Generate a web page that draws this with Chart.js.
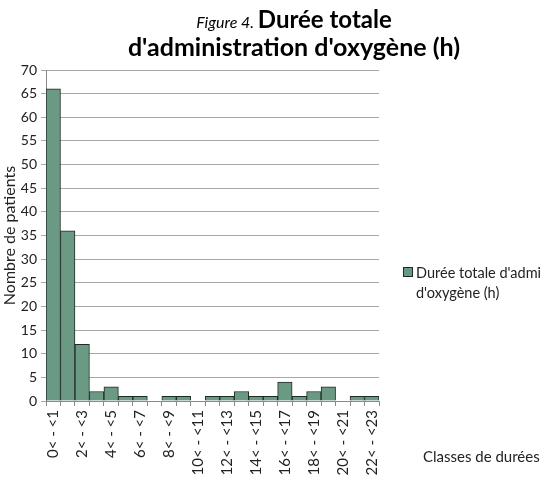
<!DOCTYPE html>
<html>
<head>
<meta charset="utf-8">
<script src="https://cdn.jsdelivr.net/npm/chart.js@4/dist/chart.umd.min.js"></script>
<style>
  html, body { margin: 0; padding: 0; background: #fff; }
  #wrap { width: 540px; height: 478px; position: relative; }
</style>
</head>
<body>
<div id="wrap"><canvas id="chart"></canvas></div>
<script>
/* ── Data ───────────────────────────────────────────────────── */

const classes = ["0< - <1", "1< - <2", "2< - <3", "3< - <4", "4< - <5", "5< - <6",
  "6< - <7", "7< - <8", "8< - <9", "9< - <10", "10< - <11", "11< - <12",
  "12< - <13", "13< - <14", "14< - <15", "15< - <16", "16< - <17", "17< - <18",
  "18< - <19", "19< - <20", "20< - <21", "21< - <22", "22< - <23"];
const patients = [66, 36, 12, 2, 3, 1, 1, 0, 1, 1, 0, 1, 1, 2, 1, 1, 4, 1, 2, 3, 0, 1, 1];
const seriesName = "Durée totale d'administration d'oxygène (h)";
const yTicks = [0, 5, 10, 15, 20, 25, 30, 35, 40, 45, 50, 55, 60, 65, 70];

const FONT = "Lato, 'Open Sans', sans-serif";
const BAR_FILL = "#6a9a84";
const BAR_EDGE = "#1e2b24";

/* ── Custom texts: title, legend, x title ──────────────────── */

const decorations = {
  id: "decorations",
  afterDraw(chart) {
    const c = chart.ctx;
    c.save();
    c.fillStyle = "#000";
    c.textBaseline = "alphabetic";

    // title line 1: italic "Figure 4." + bold "Durée totale"
    const small = "italic 16px " + FONT;
    const big = "bold 24px " + FONT;
    c.font = small;
    const w1 = c.measureText("Figure 4. ").width;
    c.font = big;
    const w2 = c.measureText("Durée totale").width;
    let x = 294 - (w1 + w2) / 2;
    c.font = small;
    c.fillText("Figure 4. ", x, 28);
    c.font = big;
    c.fillText("Durée totale", x + w1, 28);
    c.font = "bold 25px " + FONT;
    c.textAlign = "center";
    c.fillText("d'administration d'oxygène (h)", 294, 56);

    // legend
    c.textAlign = "left";
    c.fillStyle = BAR_FILL;
    c.fillRect(403.5, 267.5, 9, 9);
    c.strokeStyle = BAR_EDGE;
    c.lineWidth = 1;
    c.strokeRect(403.5, 267.5, 9, 9);
    c.fillStyle = "#222";
    c.font = "14.5px " + FONT;
    c.fillText("Durée totale d'administration", 416, 278);
    c.fillText("d'oxygène (h)", 416, 298);

    // x axis title
    c.font = "15px " + FONT;
    c.fillText("Classes de durées", 423, 462);
    c.restore();
  }
};

/* ── Chart ──────────────────────────────────────────────────── */

new Chart(document.getElementById("chart"), {
  type: "bar",
  data: {
    labels: classes,
    datasets: [{
      label: seriesName,
      data: patients,
      backgroundColor: BAR_FILL,
      borderColor: BAR_EDGE,
      borderWidth: 1,
      barPercentage: 1,
      categoryPercentage: 1,
    }],
  },
  options: {
    responsive: true,
    maintainAspectRatio: false,
    animation: false,
    layout: { padding: { top: 70, right: 161, left: 0, bottom: 0 } },
    plugins: {
      legend: { display: false },
      tooltip: { enabled: false },
    },
    scales: {
      x: {
        afterFit: s => { s.height = 77; },
        grid: { offset: true, drawOnChartArea: false, tickLength: 5, color: "#8a8a8a" },
        border: { color: "#8a8a8a" },
        ticks: {
          autoSkip: false,
          minRotation: 90,
          maxRotation: 90,
          color: "#222",
          padding: 4,
          font: { family: FONT, size: 15 },
          callback: (v, i) => (i % 2 === 0 ? classes[i] : ""),
        },
      },
      y: {
        min: 0,
        max: 70,
        afterFit: s => { s.width = 46; },
        afterBuildTicks: s => { s.ticks = yTicks.map(v => ({ value: v })); },
        grid: { color: "#a8a8a8", tickLength: 5 },
        border: { color: "#8a8a8a" },
        ticks: { color: "#222", font: { family: FONT, size: 14 }, padding: 4 },
        title: {
          display: true,
          text: "Nombre de patients",
          color: "#222",
          font: { family: FONT, size: 16 },
          padding: 0,
        },
      },
    },
  },
  plugins: [decorations],
});
</script>
</body>
</html>
